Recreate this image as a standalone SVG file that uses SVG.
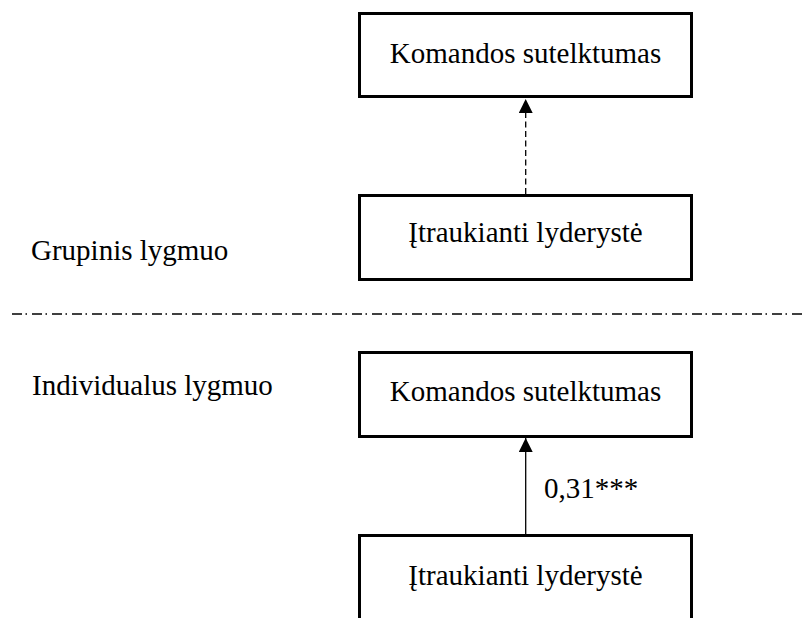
<svg xmlns="http://www.w3.org/2000/svg" width="803" height="618" viewBox="0 0 803 618">
  <style>
    .box { fill: #fff; stroke: #000; stroke-width: 3; }
    .lbl { font-family: 'Liberation Serif', 'Times New Roman', serif; font-size: 29px; fill: #000; }
    .mid { text-anchor: middle; }
    .link { stroke: #000; stroke-width: 1.3; fill: none; }
    .dashed { stroke-dasharray: 6 3.5; }
    .divider { stroke: #000; stroke-width: 1.5; stroke-dasharray: 10 3.5 1.5 5; fill: none; }
  </style>
  <defs>
    <marker id="tri" markerWidth="14" markerHeight="14" refX="14" refY="7" orient="auto" markerUnits="userSpaceOnUse">
      <path d="M0,0 L14,7 L0,14 Z" fill="#000"/>
    </marker>
  </defs>
  <rect width="803" height="618" fill="#fff"/>

  <!-- level labels and separator -->
  <g id="level-labels">
    <text class="lbl" x="31" y="260">Grupinis lygmuo</text>
    <text class="lbl" x="32" y="395">Individualus lygmuo</text>
    <line class="divider" x1="12" y1="314" x2="803" y2="314"/>
  </g>

  <!-- group level -->
  <g id="group-cohesion">
    <rect class="box" x="359.5" y="13.5" width="332" height="83"/>
    <text class="lbl mid" x="525.5" y="63">Komandos sutelktumas</text>
  </g>
  <g id="group-leadership">
    <rect class="box" x="359.5" y="195.5" width="332" height="84"/>
    <text class="lbl mid" x="525.5" y="242">Įtraukianti lyderystė</text>
  </g>

  <!-- individual level -->
  <g id="individual-cohesion">
    <rect class="box" x="359.5" y="352.5" width="332" height="84"/>
    <text class="lbl mid" x="525.5" y="401">Komandos sutelktumas</text>
  </g>
  <g id="individual-leadership">
    <rect class="box" x="359.5" y="535.5" width="332" height="90"/>
    <text class="lbl mid" x="525.5" y="585">Įtraukianti lyderystė</text>
  </g>

  <!-- connectors -->
  <g id="connectors">
    <line class="link dashed" x1="525.7" y1="194" x2="525.7" y2="99" marker-end="url(#tri)"/>
    <line class="link" x1="525.7" y1="534" x2="525.7" y2="438" marker-end="url(#tri)"/>
    <text class="lbl" x="544" y="498">0,31***</text>
  </g>
</svg>
